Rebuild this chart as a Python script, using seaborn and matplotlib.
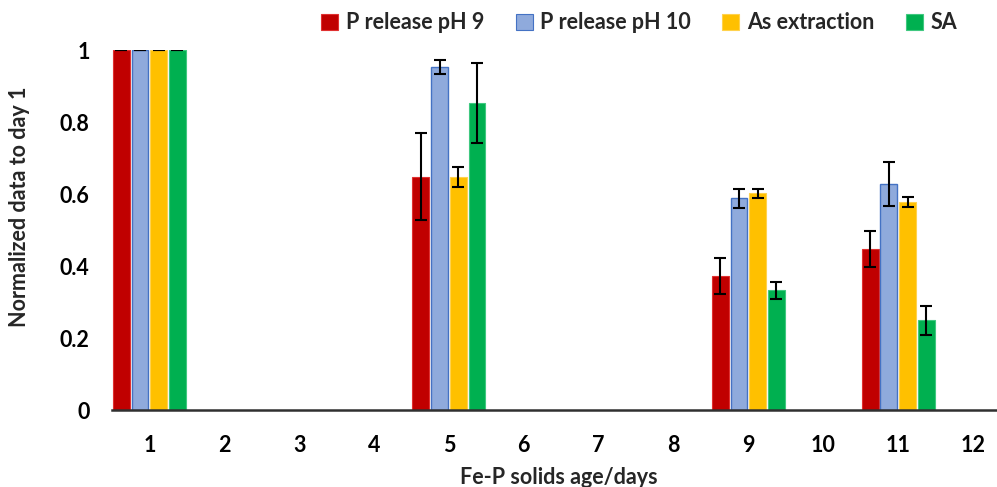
import numpy as np
import pandas as pd
import matplotlib
matplotlib.use("Agg")
import matplotlib.pyplot as plt
import seaborn as sns
from matplotlib.patches import Patch

# Days on the axis and measured days
day_labels = ["1", "2", "3", "4", "5", "6", "7", "8", "9", "10", "11", "12"]
measured_days = ["1", "5", "9", "11"]
series = ["P release pH 9", "P release pH 10", "As extraction", "SA"]

# Normalized values (relative to day 1) and their standard deviations
p_ph9 = [1.0, 0.648, 0.372, 0.447]
p_ph9_err = [0.0, 0.121, 0.050, 0.050]
p_ph10 = [1.0, 0.954, 0.588, 0.627]
p_ph10_err = [0.0, 0.019, 0.027, 0.061]
as_extr = [1.0, 0.648, 0.602, 0.578]
as_extr_err = [0.0, 0.028, 0.013, 0.013]
sa = [1.0, 0.852, 0.333, 0.249]
sa_err = [0.0, 0.111, 0.024, 0.040]

values = [p_ph9, p_ph10, as_extr, sa]
errors = [p_ph9_err, p_ph10_err, as_extr_err, sa_err]

fill_colors = ["#C00000", "#8FAADC", "#FFC000", "#00B050"]
edge_colors = ["#E03030", "#4472C4", "#FFD24D", "#40C880"]

rows = []
for name, vals, errs in zip(series, values, errors):
    for d, v, e in zip(measured_days, vals, errs):
        rows.append({"day": d, "series": name, "value": v, "err": e})
df = pd.DataFrame(rows)

sns.set_style("white")
plt.rcParams["font.family"] = ["Lato", "DejaVu Sans"]
plt.rcParams["font.weight"] = "bold"
FS = 15.5

fig = plt.figure(figsize=(9.97, 4.87), dpi=100)
ax = fig.add_axes([0.1123, 0.158, 0.8877, 0.739])

sns.barplot(data=df, x="day", y="value", hue="series", order=day_labels,
            hue_order=series, palette=fill_colors, width=1.0, gap=0.1,
            errorbar=None, ax=ax, legend=False, saturation=1)

# Error bars placed at the centre of each dodged bar
for s_idx, name in enumerate(series):
    sub = df[df["series"] == name]
    xs = [day_labels.index(d) - 0.5 + 0.125 + 0.25 * s_idx for d in sub["day"]]
    ax.errorbar(xs, sub["value"], yerr=sub["err"], fmt="none", ecolor="black",
                elinewidth=1.5, capsize=4, capthick=1.5, zorder=5)

for patch in ax.patches:
    fc = matplotlib.colors.to_hex(patch.get_facecolor())
    for f, ec in zip(fill_colors, edge_colors):
        if fc.lower() == f.lower():
            patch.set_edgecolor(ec)
            patch.set_linewidth(1.0 if f == "#8FAADC" else 0.8)

ax.set_xlim(-0.5, 11.32)
ax.set_ylim(0, 1)
ax.set_yticks([0, 0.2, 0.4, 0.6, 0.8, 1.0])
ax.set_yticklabels(["0", "0.2", "0.4", "0.6", "0.8", "1"])
ax.tick_params(axis="both", length=0, labelsize=FS, colors="black")
ax.tick_params(axis="x", pad=18)
ax.tick_params(axis="y", pad=16)
for lab in ax.get_xticklabels() + ax.get_yticklabels():
    lab.set_fontweight("bold")

for sp in ["top", "right", "left"]:
    ax.spines[sp].set_visible(False)
ax.spines["bottom"].set_color("#303030")
ax.spines["bottom"].set_linewidth(1.8)

ax.set_xlabel("Fe-P solids age/days", fontsize=FS, fontweight="bold")
ax.xaxis.set_label_coords(0.505, -0.187)
ax.xaxis.label.set_va("center")
ax.set_ylabel("Normalized data to day 1", fontsize=FS, fontweight="bold")
ax.yaxis.set_label_coords(-0.104, 0.564)
ax.yaxis.label.set_va("center")

handles = [Patch(facecolor=f, edgecolor=e, linewidth=0.8) for f, e in zip(fill_colors, edge_colors)]
fig.legend(handles, series, loc="center", bbox_to_anchor=(0.641, 0.953), ncol=4,
           frameon=False, prop={"size": FS, "weight": "bold"}, handlelength=0.8,
           handleheight=0.8, handletextpad=0.35, columnspacing=1.45)

fig.savefig("out.png", dpi=100)
